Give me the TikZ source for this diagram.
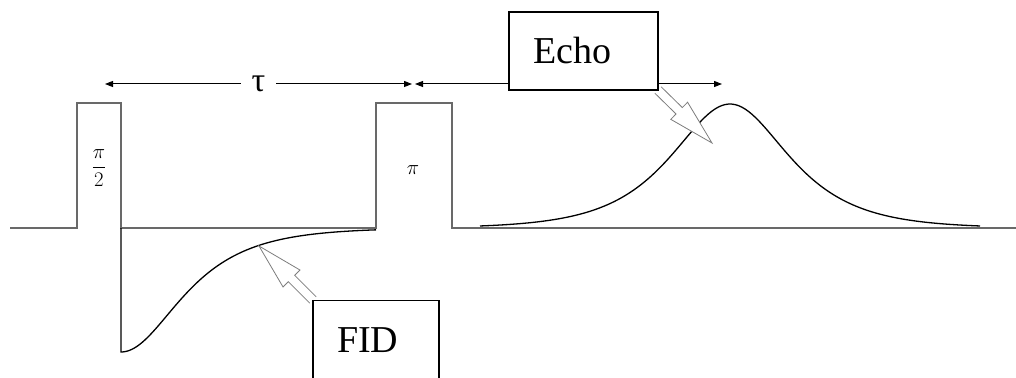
\documentclass[tikz,border=0pt]{standalone}
\usepackage{amsmath}
\usepackage{fontspec}
\setmainfont{Liberation Serif}
\usetikzlibrary{arrows.meta,positioning,calc}

\definecolor{pulsegray}{RGB}{105,105,105}
\definecolor{arrowgray}{RGB}{125,125,125}

\tikzset{
  pulse/.style={draw=pulsegray, line width=1.5pt},
  signal/.style={draw=black, line width=1.3pt},
  delay/.style={line width=1pt, {Triangle[length=8pt,width=6pt]}-{Triangle[length=8pt,width=6pt]}},
  labelbox/.style={draw, line width=1.1pt, fill=white, font=\fontsize{38}{40}\selectfont,
                   inner xsep=24pt, align=left},
  hollow/.style={draw=arrowgray, fill=white, line width=0.8pt, line join=miter},
}

\newcommand\hollowarrow[2]{%
  \coordinate (ha-base) at ($(#2)!46pt!(#1)$);
  \filldraw[hollow] ($(#1)!4.5pt!90:(#2)$) -- ($(ha-base)!4.5pt!90:(#2)$) -- ($(ha-base)!12pt!90:(#2)$)
    -- (#2) -- ($(ha-base)!12pt!-90:(#2)$) -- ($(ha-base)!4.5pt!-90:(#2)$) -- ($(#1)!4.5pt!-90:(#2)$);
}

\begin{document}
\begin{tikzpicture}[x=1pt, y=-1pt]
    \useasboundingbox (0,0) rectangle (1016,377);

    \draw[pulse] (10,228) -- (77,228) -- (77,103) -- (121,103) -- (121,228) -- (376,228)
      -- (376,103) -- (452,103) -- (452,228) -- (1016,228);
    \node (half) at (99,168) {\fontsize{22}{24}\selectfont$\dfrac{\pi}{2}$};
    \node (full) at (413,170) {\fontsize{22}{24}\selectfont$\pi$};

    \draw[signal] (121,228) -- (121,352)
      -- plot[domain=121:376, samples=120] (\x,{228+124/cosh((\x-121)/52)});
    \draw[signal] plot[domain=480:980, samples=150] (\x,{228-124/cosh((\x-730)/52)});

    \coordinate (t0) at (105,84);
    \coordinate (t1) at (412,84);
    \coordinate (t2) at (415,84);
    \coordinate (t3) at (722,84);
    \draw[delay] (t0) -- node[fill=white, inner xsep=11pt, font=\fontsize{34}{36}\selectfont] (tau) {τ} (t1);
    \draw[delay] (t2) -- (t3);

    \coordinate (echotip) at (712,143);
    \coordinate (fidtip) at (259,246);
    \hollowarrow{658,90}{echotip}
    \hollowarrow{313,300}{fidtip}

    \node[labelbox, text width=101pt, minimum height=78pt] (echo) at (583.5,51) {Echo};
    \node[labelbox, text width=78pt, minimum height=80pt, anchor=north] (fid) at (376,300) {FID};
\end{tikzpicture}
\end{document}
